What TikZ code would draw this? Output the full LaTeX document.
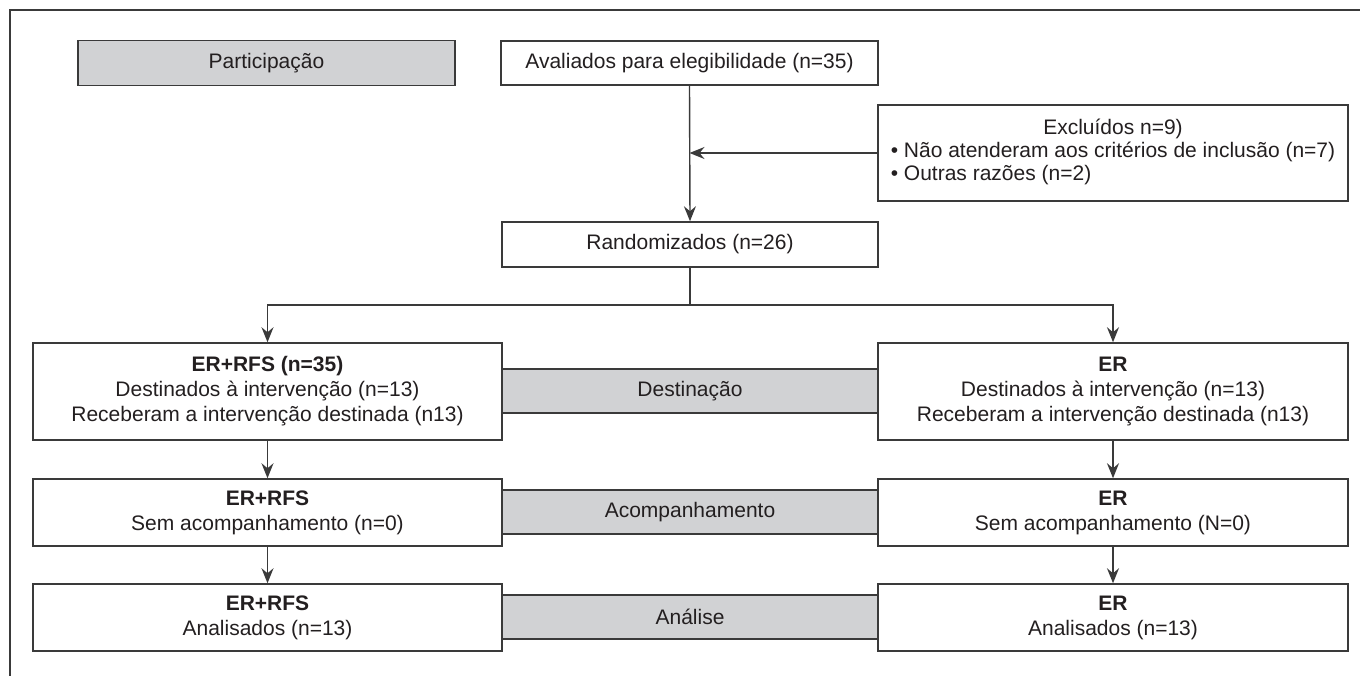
\documentclass[tikz,border=0pt]{standalone}
\usepackage{fontspec}
\setmainfont{Liberation Sans}
\usetikzlibrary{arrows.meta}
\definecolor{ln}{HTML}{3A3A3A}
\definecolor{gfill}{HTML}{D1D2D4}
\definecolor{tx}{HTML}{231F20}
\begin{document}
\begin{tikzpicture}[x=1pt,y=-1pt,
  box/.style={draw=ln,line width=1.5pt,fill=white,text=tx,align=center,inner sep=0pt,font=\fontsize{21}{25}\selectfont},
  graybox/.style={box,fill=gfill},
  arr/.style={draw=ln,line width=1.4pt,-{Stealth[length=15pt,width=12pt,inset=5pt]}},
  conn/.style={draw=ln,line width=1.4pt}]
\useasboundingbox (0,0) rectangle (1360,676);
\draw[conn,line width=1.8pt] (1360,10) -- (10,10) -- (10,676);

\node[graybox,minimum width=377pt,minimum height=45pt] (part) at (266.5,63) {Participação};
\node[box,minimum width=377pt,minimum height=44pt] (aval) at (689.5,63) {Avaliados para elegibilidade (n=35)};
\node[box,minimum width=470pt,minimum height=96pt] (excl) at (1113,153) {\fontsize{21}{23}\selectfont\begin{tabular}{@{}l@{}}\multicolumn{1}{@{}c@{}}{Excluídos n=9)}\\• Não atenderam aos critérios de inclusão (n=7)\\• Outras razões (n=2)\end{tabular}};
\node[box,minimum width=376pt,minimum height=45pt] (rand) at (690,244.5) {Randomizados (n=26)};

\node[graybox,minimum width=376pt,minimum height=44pt] (dest) at (690,391) {Destinação};
\node[graybox,minimum width=376pt,minimum height=44pt] (acomp) at (690,512) {Acompanhamento};
\node[graybox,minimum width=376pt,minimum height=44pt] (anal) at (690,617) {Análise};

\node[box,minimum width=469pt,minimum height=97pt] (L1) at (267.5,391.5) {\textbf{ER+RFS (n=35)}\\Destinados à intervenção (n=13)\\Receberam a intervenção destinada (n13)};
\node[box,minimum width=470pt,minimum height=97pt] (R1) at (1113,391.5) {\textbf{ER}\\Destinados à intervenção (n=13)\\Receberam a intervenção destinada (n13)};
\node[box,minimum width=469pt,minimum height=67pt] (L2) at (267.5,512.5) {\textbf{ER+RFS}\\Sem acompanhamento (n=0)};
\node[box,minimum width=470pt,minimum height=67pt] (R2) at (1113,512.5) {\textbf{ER}\\Sem acompanhamento (N=0)};
\node[box,minimum width=469pt,minimum height=67pt] (L3) at (267.5,617.5) {\textbf{ER+RFS}\\Analisados (n=13)};
\node[box,minimum width=470pt,minimum height=67pt] (R3) at (1113,617.5) {\textbf{ER}\\Analisados (n=13)};

\draw[arr] (aval.south) -- (rand.north);
\coordinate (j) at (aval.south |- excl.west);
\draw[arr] (excl.west) -- (j);
\coordinate (split) at (690,305);
\draw[conn] (rand.south) -- (split);
\draw[arr] (split) -| (L1.north);
\draw[arr] (split) -| (R1.north);
\draw[arr] (L1.south) -- (L2.north);
\draw[arr] (L2.south) -- (L3.north);
\draw[arr] (R1.south) -- (R2.north);
\draw[arr] (R2.south) -- (R3.north);
\end{tikzpicture}
\end{document}
